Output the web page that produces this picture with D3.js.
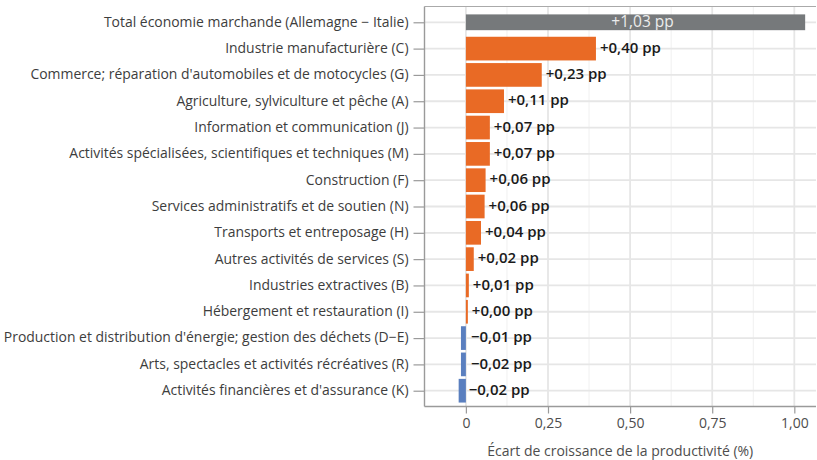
<!DOCTYPE html>
<html><head><meta charset="utf-8">
<script src="https://cdn.jsdelivr.net/npm/d3@7/dist/d3.min.js"></script>
<style>
html,body{margin:0;padding:0;background:#fff;}
svg{display:block;font-family:"Open Sans",sans-serif;}
</style></head>
<body>
<svg id="chart" width="817" height="460"></svg>
<script>
const categories = [
  "Total économie marchande (Allemagne − Italie)",
  "Industrie manufacturière (C)",
  "Commerce; réparation d'automobiles et de motocycles (G)",
  "Agriculture, sylviculture et pêche (A)",
  "Information et communication (J)",
  "Activités spécialisées, scientifiques et techniques (M)",
  "Construction (F)",
  "Services administratifs et de soutien (N)",
  "Transports et entreposage (H)",
  "Autres activités de services (S)",
  "Industries extractives (B)",
  "Hébergement et restauration (I)",
  "Production et distribution d'énergie; gestion des déchets (D−E)",
  "Arts, spectacles et activités récréatives (R)",
  "Activités financières et d'assurance (K)"
];
const values = [1.033, 0.396, 0.231, 0.116, 0.073, 0.073, 0.060, 0.057, 0.046, 0.024, 0.009, 0.006, -0.015, -0.015, -0.022];
const valueLabels = ["+1,03 pp","+0,40 pp","+0,23 pp","+0,11 pp","+0,07 pp","+0,07 pp","+0,06 pp","+0,06 pp","+0,04 pp","+0,02 pp","+0,01 pp","+0,00 pp","−0,01 pp","−0,02 pp","−0,02 pp"];
const isTotal = [true,false,false,false,false,false,false,false,false,false,false,false,false,false,false];
const xTicks = [0, 0.25, 0.5, 0.75, 1.0];
const xTickLabels = ["0","0,25","0,50","0,75","1,00"];
const xMinorTicks = [0.125, 0.375, 0.625, 0.875];
const xTitle = "Écart de croissance de la productivité (%)";

const W = 817, H = 460;
const panel = {left: 424.5, right: 816, top: 6.5, bottom: 406.5};
const svg = d3.select("#chart");

const x = d3.scaleLinear().domain([-0.126, 1.066]).range([panel.left, panel.right]);
const y = d3.scalePoint().domain(categories).range([panel.top, panel.bottom]).padding(0.6);
const step = y.step();

const colorFor = (v, t) => t ? "#76797b" : (v >= 0 ? "#e96a25" : "#5a7fbf");

const g = svg.append("g");

// grid
g.selectAll("line.minor").data(xMinorTicks).enter().append("line")
  .attr("x1", d => x(d)).attr("x2", d => x(d))
  .attr("y1", panel.top).attr("y2", panel.bottom)
  .attr("stroke", "#f0f0f0").attr("stroke-width", 1);
g.selectAll("line.major").data(xTicks).enter().append("line")
  .attr("x1", d => x(d)).attr("x2", d => x(d))
  .attr("y1", panel.top).attr("y2", panel.bottom)
  .attr("stroke", "#e6e6e6").attr("stroke-width", 1.8);
g.selectAll("line.hgrid").data(categories).enter().append("line")
  .attr("x1", panel.left).attr("x2", panel.right)
  .attr("y1", d => y(d)).attr("y2", d => y(d))
  .attr("stroke", "#e6e6e6").attr("stroke-width", 1.8);

// bars
const data = categories.map((c, i) => ({c, v: values[i], lab: valueLabels[i], t: isTotal[i]}));
g.selectAll("rect.bar").data(data).enter().append("rect")
  .attr("x", d => x(Math.min(0, d.v)))
  .attr("width", d => Math.abs(x(d.v) - x(0)))
  .attr("y", d => y(d.c) - (d.t ? 0.6 : 0.9) * step / 2)
  .attr("height", d => (d.t ? 0.6 : 0.9) * step)
  .attr("fill", d => colorFor(d.v, d.t));

// value labels
g.selectAll("text.val").data(data).enter().append("text")
  .attr("x", d => d.t ? x(d.v / 2) + 7 : (d.v >= 0 ? x(d.v) + 4 : x(d.v) + 10))
  .attr("y", d => y(d.c))
  .attr("dy", d => d.t ? "0.3em" : "0.28em")
  .attr("text-anchor", d => d.t ? "middle" : "start")
  .attr("font-size", d => d.t ? 15.5 : 15)
  .attr("font-weight", d => d.t ? 400 : 600)
  .attr("fill", d => d.t ? "#ececec" : "#1a1a1a")
  .text(d => d.lab);

// panel border (top)
g.append("line").attr("x1", panel.left).attr("x2", panel.right).attr("y1", panel.top).attr("y2", panel.top)
  .attr("stroke", "#aaaaaa").attr("stroke-width", 1.2);

// y axis
const yAxis = d3.axisLeft(y).tickSize(11).tickPadding(5);
const ya = svg.append("g").attr("transform", `translate(${panel.left},0)`).call(yAxis);
ya.select(".domain").attr("stroke", "#9a9a9a").attr("stroke-width", 1.4)
  .attr("d", `M0,${panel.top}V${panel.bottom}`);
ya.selectAll(".tick line").attr("stroke", "#9a9a9a").attr("stroke-width", 1.2);
ya.selectAll(".tick text").attr("font-size", 13.95).attr("fill", "#3d3d3d").attr("dy", "0.28em")
  .attr("font-family", "'Open Sans', sans-serif");

// x axis
const xAxis = d3.axisBottom(x).tickValues(xTicks).tickFormat((d, i) => xTickLabels[i]).tickSize(7).tickPadding(5);
const xa = svg.append("g").attr("transform", `translate(0,${panel.bottom})`).call(xAxis);
xa.select(".domain").attr("stroke", "#9a9a9a").attr("stroke-width", 1.4)
  .attr("d", `M${panel.left},0H${panel.right}`);
xa.selectAll(".tick line").attr("stroke", "#9a9a9a").attr("stroke-width", 1.2);
xa.selectAll(".tick text").attr("font-size", 14).attr("fill", "#4d4d4d")
  .attr("font-family", "'Open Sans', sans-serif");

svg.append("text")
  .attr("x", (panel.left + panel.right) / 2).attr("y", 456)
  .attr("text-anchor", "middle").attr("font-size", 14).attr("fill", "#4d4d4d")
  .text(xTitle);
</script>
</body></html>
